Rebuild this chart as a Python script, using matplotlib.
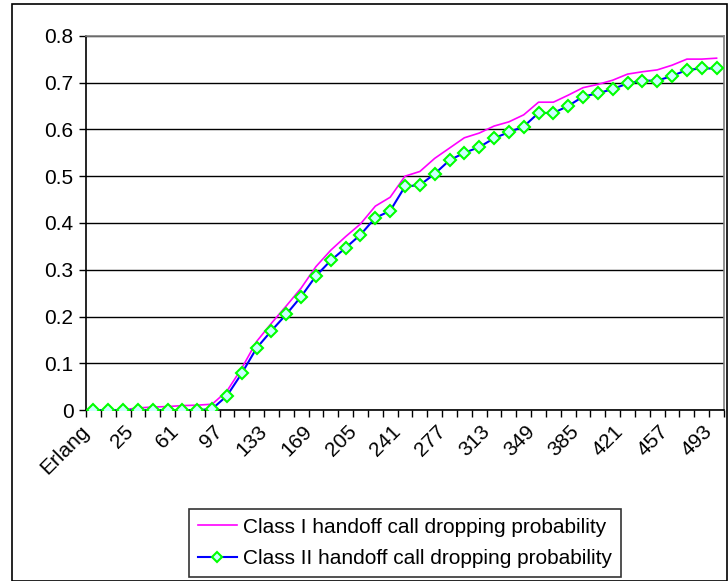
import matplotlib
matplotlib.use("Agg")
import matplotlib.pyplot as plt
from matplotlib.patches import Rectangle
import matplotlib.transforms as mtransforms
import numpy as np

plt.rcParams['font.family'] = ['Liberation Sans', 'DejaVu Sans']

categories = ["Erlang"] + [str(v) for v in range(1, 494, 12)]

class1 = [0.000, 0.000, 0.001, 0.005, 0.007, 0.008, 0.010, 0.011, 0.013, 0.041,
          0.090, 0.147, 0.186, 0.223, 0.261, 0.307, 0.342, 0.371, 0.398, 0.436,
          0.455, 0.500, 0.510, 0.538, 0.560, 0.582, 0.592, 0.607, 0.616, 0.631,
          0.658, 0.658, 0.673, 0.689, 0.696, 0.705, 0.718, 0.723, 0.727, 0.737,
          0.750, 0.750, 0.752]

class2 = [0.000, 0.000, 0.000, 0.000, 0.000, 0.000, 0.000, 0.000, 0.003, 0.031,
          0.079, 0.133, 0.170, 0.205, 0.243, 0.287, 0.320, 0.347, 0.375, 0.411,
          0.426, 0.478, 0.481, 0.505, 0.534, 0.550, 0.562, 0.581, 0.594, 0.606,
          0.635, 0.635, 0.650, 0.670, 0.677, 0.686, 0.698, 0.704, 0.704, 0.714,
          0.727, 0.730, 0.730]

y_ticks = [0, 0.1, 0.2, 0.3, 0.4, 0.5, 0.6, 0.7, 0.8]
y_tick_labels = ["0", "0.1", "0.2", "0.3", "0.4", "0.5", "0.6", "0.7", "0.8"]

FS = 15
W, H = 728, 581
fig = plt.figure(figsize=(W / 100, H / 100), dpi=100)
ax = fig.add_axes([86 / W, 1 - 410.3 / H, (724 - 86) / W, (410.3 - 35.7) / H])

x = np.arange(len(categories))
ax.plot(x, class1, color='#ff00ff', lw=1.2, label='Class I handoff call dropping probability', zorder=3)
ax.plot(x, class2, color='#0000ff', lw=1.5, marker='D', markersize=6.5,
        markerfacecolor='#ccffff', markeredgecolor='#00ff00', markeredgewidth=1.5,
        label='Class II handoff call dropping probability', zorder=4)

ax.set_xlim(-0.5, len(categories) - 0.5)
ax.set_ylim(0, 0.8)
ax.set_yticks(y_ticks)
ax.set_yticklabels(y_tick_labels, fontsize=FS)
ax.yaxis.grid(True, color='black', lw=1)
ax.set_axisbelow(True)

# category boundary ticks
ax.set_xticks(np.arange(-0.5, len(categories), 1.0))
ax.set_xticklabels([])
ax.tick_params(axis='x', which='major', length=5, width=1, direction='out', color='black')
# labels every 3rd category
lab_idx = list(range(0, len(categories), 3))
ax.set_xticks(lab_idx, minor=True)
ax.set_xticklabels([categories[i] for i in lab_idx], minor=True, rotation=45,
                   ha='right', va='center', rotation_mode='anchor', fontsize=FS)
ax.tick_params(axis='x', which='minor', length=0, pad=13)
ax.tick_params(axis='y', length=5, width=1, direction='out', color='black', pad=4)
offset = mtransforms.ScaledTranslation(-7 / 100, 0, fig.dpi_scale_trans)
for lbl in ax.get_xticklabels(minor=True):
    lbl.set_transform(lbl.get_transform() + offset)

for s in ['top', 'right']:
    ax.spines[s].set_color('#808080')
    ax.spines[s].set_linewidth(1.2)
for s in ['left', 'bottom']:
    ax.spines[s].set_color('black')
    ax.spines[s].set_linewidth(1.2)

leg = fig.legend(loc='center', bbox_to_anchor=(405 / W, 1 - 543 / H), fontsize=FS,
                 frameon=True, fancybox=False, edgecolor='black', handlelength=1.9,
                 borderpad=0.4, labelspacing=0.6, handletextpad=0.3, borderaxespad=0,
                 markerscale=0.75)
leg.get_frame().set_linewidth(1.2)

fig.patches.append(Rectangle((11.5 / W, 0.5 / H), (727 - 11.5) / W, (577 - 0) / H,
                             transform=fig.transFigure, fill=False, edgecolor='black', lw=1.2))

fig.savefig('out.png', dpi=100)
